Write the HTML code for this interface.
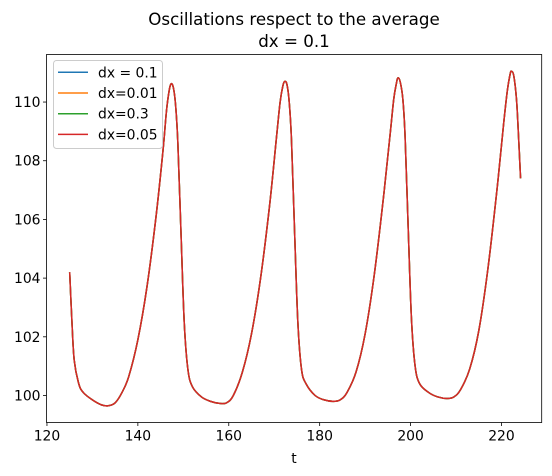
<!DOCTYPE html>
<html><head><meta charset="utf-8"><style>
html,body{margin:0;padding:0;background:#fff;}
svg{display:block;font-family:"DejaVu Sans","Liberation Sans",sans-serif;}
</style></head><body>
<svg id="chart" width="552" height="476" viewBox="0 0 552 476">
<rect width="552" height="476" fill="#fff"/>
<text x="294" y="25" font-size="16.7" text-anchor="middle">Oscillations respect to the average</text>
<text x="294" y="47" font-size="16.7" text-anchor="middle">dx = 0.1</text>
<g id="plot"></g>
<g id="axes"></g>
<text x="294" y="463" font-size="13.9" text-anchor="middle">t</text>
<g id="legend"></g>
</svg>
<script>
const tVals = [125,125.5,126,127,128,130,132,133.5,135,136.5,138,140,142,144,145.5,146.3,146.9,147.3,147.8,148.3,148.8,149.5,150.2,151,152,154,156,158,159.5,161,163,165,167,169,170.5,171.3,171.9,172.3,172.8,173.3,173.8,174.5,175.2,176,177,179,181,183,184.5,186,188,190,192,194,195.5,196.3,196.9,197.2,197.7,198.3,198.8,199.5,200.2,201,202,204,206,208,209.5,211,213,215,217,219,220.5,221.3,221.9,222.2,222.7,223.3,223.7,224.2];
const yVals = [104.2,102.5,101.2,100.4,100.1,99.85,99.68,99.65,99.75,100.1,100.65,101.9,103.7,106.1,108.3,109.7,110.4,110.62,110.5,109.9,108.6,105.5,102.5,100.9,100.3,99.95,99.8,99.73,99.75,100.0,100.8,102.1,104.0,106.5,108.8,110.0,110.55,110.7,110.6,110.0,108.7,105.5,102.5,100.9,100.4,100.0,99.85,99.8,99.85,100.1,100.8,102.1,104.1,106.7,108.9,110.1,110.65,110.82,110.7,110.1,108.8,105.6,102.6,101.0,100.4,100.1,99.95,99.9,99.95,100.2,100.9,102.2,104.3,107.0,109.3,110.4,110.95,111.05,110.9,110.1,109.0,107.4];
const seriesNames = ["dx = 0.1","dx=0.01","dx=0.3","dx=0.05"];
const seriesColors = ["#1f77b4","#ff7f0e","#2ca02c","#d62728"];
const xTicks = [120,140,160,180,200,220];
const yTicks = [100,102,104,106,108,110];

const NS="http://www.w3.org/2000/svg";
const L=46.5,R=541.7,T=54.5,B=422.5;
const xMin=119.9,xMax=228.85,yMin=99.08,yMax=111.62;
const sx=v=>L+(v-xMin)/(xMax-xMin)*(R-L);
const sy=v=>B-(v-yMin)/(yMax-yMin)*(B-T);
function mk(tag,attrs,parent){const e=document.createElementNS(NS,tag);for(const k in attrs)e.setAttribute(k,attrs[k]);parent.appendChild(e);return e;}

function smoothPath(){
  const P=tVals.map((t,i)=>[sx(t),sy(yVals[i])]);
  let s='M'+P[0][0].toFixed(2)+','+P[0][1].toFixed(2);
  for(let i=0;i<P.length-1;i++){
    const p0=P[Math.max(i-1,0)],p1=P[i],p2=P[i+1],p3=P[Math.min(i+2,P.length-1)];
    const c1=[p1[0]+(p2[0]-p0[0])/6,p1[1]+(p2[1]-p0[1])/6];
    const c2=[p2[0]-(p3[0]-p1[0])/6,p2[1]-(p3[1]-p1[1])/6];
    s+=' C'+c1[0].toFixed(2)+','+c1[1].toFixed(2)+' '+c2[0].toFixed(2)+','+c2[1].toFixed(2)+' '+p2[0].toFixed(2)+','+p2[1].toFixed(2);
  }
  return s;
}
const plot=document.getElementById('plot');
const d=smoothPath();
seriesNames.forEach((n,i)=>{
  const p=mk('path',{d:d,fill:'none',stroke:seriesColors[i],'stroke-width':1.5,'stroke-linejoin':'round'},plot);
  
  
});

const axes=document.getElementById('axes');
const frame=mk('rect',{x:L,y:T,width:R-L,height:B-T,fill:'none',stroke:'#000','stroke-width':0.8},axes);


xTicks.forEach(v=>{
  const x=sx(v);
  mk('line',{x1:x,x2:x,y1:B,y2:B+3.5,stroke:'#000','stroke-width':0.8},axes);
  const t=mk('text',{x:x,y:B+18,'font-size':13.9,'text-anchor':'middle'},axes);
  t.textContent=v;
  
  
});
yTicks.forEach(v=>{
  const y=sy(v);
  mk('line',{x1:L-3.5,x2:L,y1:y,y2:y,stroke:'#000','stroke-width':0.8},axes);
  const t=mk('text',{x:L-6,y:y+5,'font-size':13.9,'text-anchor':'end'},axes);
  t.textContent=v;
  
  
});

const lg=document.getElementById('legend');
const box=mk('rect',{x:53.5,y:60.5,width:109,height:88,rx:3,fill:'#fff','fill-opacity':0.8,stroke:'#ccc','stroke-width':1},lg);


seriesNames.forEach((n,i)=>{
  const y=72.3+i*20.7;
  const ln=mk('line',{x1:58,x2:88,y1:y,y2:y,stroke:seriesColors[i],'stroke-width':1.5},lg);
  
  
  const t=mk('text',{x:98,y:y+5,'font-size':13.9},lg);
  t.textContent=n;
  
  
});
</script>
</body></html>
